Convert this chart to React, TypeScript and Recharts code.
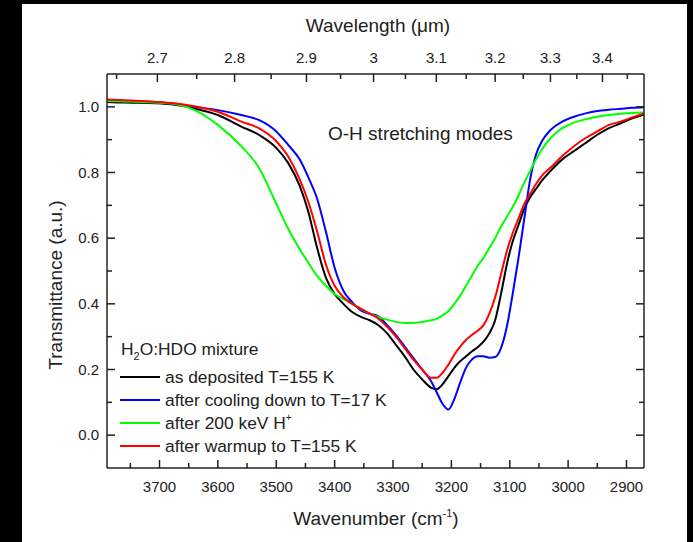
import { LineChart, Line, XAxis, YAxis } from "recharts";

// wavenumber grid (cm-1)
const wavenumbers = [
  3790, 3760, 3720, 3680, 3640, 3600, 3560, 3530, 3500, 3480, 3460, 3445, 3430, 3415, 3400, 3385, 3370, 3355,
  3340, 3325, 3310, 3295, 3280, 3265, 3250, 3235, 3225, 3215, 3205, 3195, 3185, 3175, 3165, 3155, 3145, 3135,
  3125, 3115, 3105, 3095, 3085, 3075, 3065, 3055, 3045, 3030, 3010, 2990, 2970, 2950, 2930, 2910, 2890, 2870,
];

const asDeposited = [
  1.015, 1.013, 1.012, 1.008, 0.995, 0.975, 0.94, 0.915, 0.875, 0.83, 0.76, 0.68, 0.57, 0.48, 0.43, 0.4, 0.375, 0.36,
  0.35, 0.335, 0.31, 0.275, 0.24, 0.2, 0.17, 0.145, 0.14, 0.155, 0.18, 0.205, 0.225, 0.24, 0.255, 0.268, 0.285, 0.31,
  0.35, 0.43, 0.52, 0.59, 0.64, 0.69, 0.725, 0.75, 0.775, 0.805, 0.84, 0.865, 0.89, 0.915, 0.935, 0.95, 0.965, 0.977,
];

const cooled17K = [
  1.02, 1.018, 1.015, 1.01, 1.0, 0.99, 0.975, 0.96, 0.925, 0.885, 0.84, 0.785, 0.72, 0.62, 0.51, 0.44, 0.405, 0.38,
  0.37, 0.362, 0.335, 0.305, 0.27, 0.235, 0.2, 0.165, 0.13, 0.095, 0.078, 0.11, 0.16, 0.205, 0.23, 0.24, 0.24, 0.236,
  0.238, 0.265, 0.33, 0.43, 0.54, 0.66, 0.78, 0.855, 0.895, 0.93, 0.955, 0.97, 0.98, 0.987, 0.991, 0.994, 0.997, 0.999,
];

const irradiated = [
  1.018, 1.016, 1.014, 1.01, 0.99, 0.945, 0.88, 0.815, 0.705, 0.63, 0.567, 0.525, 0.485, 0.455, 0.43, 0.415, 0.4, 0.385,
  0.37, 0.36, 0.352, 0.345, 0.342, 0.342, 0.345, 0.35, 0.355, 0.365, 0.378, 0.4, 0.425, 0.455, 0.485, 0.515, 0.54, 0.57,
  0.6, 0.635, 0.665, 0.695, 0.73, 0.77, 0.805, 0.84, 0.87, 0.905, 0.935, 0.952, 0.962, 0.97, 0.975, 0.979, 0.981, 0.983,
];

const warmed155K = [
  1.022, 1.02, 1.017, 1.012, 1.002, 0.985, 0.955, 0.935, 0.895, 0.85, 0.78, 0.71, 0.62, 0.52, 0.455, 0.42, 0.4, 0.385,
  0.37, 0.355, 0.33, 0.3, 0.265, 0.23, 0.2, 0.175, 0.175, 0.19, 0.215, 0.245, 0.27, 0.29, 0.305, 0.318, 0.335, 0.37,
  0.42, 0.49, 0.56, 0.615, 0.66, 0.705, 0.735, 0.765, 0.79, 0.815, 0.85, 0.88, 0.905, 0.925, 0.945, 0.955, 0.968, 0.979,
];

const wavenumberTicks = [3750, 3700, 3650, 3600, 3550, 3500, 3450, 3400, 3350, 3300, 3250, 3200, 3150, 3100, 3050, 3000, 2950, 2900];
const wavelengthTicks = [2.65, 2.7, 2.75, 2.8, 2.85, 2.9, 2.95, 3, 3.05, 3.1, 3.15, 3.2, 3.25, 3.3, 3.35, 3.4, 3.45];
const transmittanceTicks = [0, 0.1, 0.2, 0.3, 0.4, 0.5, 0.6, 0.7, 0.8, 0.9, 1.0];

const series = [
  { key: "asDeposited", name: "as deposited T=155 K", color: "#000000" },
  { key: "cooled17K", name: "after cooling down to T=17 K", color: "#0000ff" },
  { key: "irradiated", name: "after 200 keV H", color: "#00ff00" },
  { key: "warmed155K", name: "after warmup to T=155 K", color: "#ff0000" },
];

const rows = wavenumbers.map((w, i) => ({
  w,
  asDeposited: asDeposited[i],
  cooled17K: cooled17K[i],
  irradiated: irradiated[i],
  warmed155K: warmed155K[i],
}));

const FONT = '"Liberation Sans", Arial, sans-serif';
const INK = "#222";

function BottomTick(props: any) {
  const { x, y, payload } = props;
  const major = payload.value % 100 === 0;
  return (
    <g>
      <line x1={x} y1={y} x2={x} y2={y - (major ? 8 : 5)} stroke={INK} strokeWidth={1.5} />
      {major && (
        <text x={x} y={y + 24} textAnchor="middle" fontSize={15} fill={INK} fontFamily={FONT}>
          {payload.value}
        </text>
      )}
    </g>
  );
}

function TopTick(props: any) {
  const { x, y, payload } = props;
  const lambda = 10000 / payload.value;
  const major = Math.round(lambda * 100) % 10 === 0;
  return (
    <g>
      <line x1={x} y1={y} x2={x} y2={y + (major ? 8 : 5)} stroke={INK} strokeWidth={1.5} />
      {major && (
        <text x={x} y={y - 11} textAnchor="middle" fontSize={15} fill={INK} fontFamily={FONT}>
          {String(Number(lambda.toFixed(1)))}
        </text>
      )}
    </g>
  );
}

function LeftTick(props: any) {
  const { x, y, payload } = props;
  const major = Math.round(payload.value * 10) % 2 === 0;
  return (
    <g>
      <line x1={x} y1={y} x2={x + (major ? 8 : 5)} y2={y} stroke={INK} strokeWidth={1.5} />
      {major && (
        <text x={x - 8} y={y + 5} textAnchor="end" fontSize={15} fill={INK} fontFamily={FONT}>
          {payload.value.toFixed(1)}
        </text>
      )}
    </g>
  );
}

function RightTick(props: any) {
  const { x, y, payload } = props;
  const major = Math.round(payload.value * 10) % 2 === 0;
  return <line x1={x} y1={y} x2={x - (major ? 8 : 5)} y2={y} stroke={INK} strokeWidth={1.5} />;
}

export default function App() {
  const axisLine = { stroke: INK, strokeWidth: 1.5 };
  return (
    <div style={{ position: "absolute", left: 0, top: 0, width: 693, height: 542, background: "#000" }}>
      <div style={{ position: "absolute", left: 22, top: 4, width: 665, height: 538, background: "#fff" }} />
      <div style={{ position: "absolute", left: 0, top: 0 }}>
        <LineChart width={693} height={542} data={rows} margin={{ top: 34, right: 48, bottom: 34, left: 57 }}>
          <XAxis
            xAxisId="bottom"
            dataKey="w"
            type="number"
            domain={[2870, 3790]}
            reversed
            allowDataOverflow
            ticks={wavenumberTicks}
            interval={0}
            height={40}
            tickSize={0}
            tickMargin={0}
            tickLine={false}
            axisLine={axisLine}
            tick={BottomTick}
          />
          <XAxis
            xAxisId="top"
            orientation="top"
            dataKey="w"
            type="number"
            domain={[2870, 3790]}
            reversed
            allowDataOverflow
            ticks={wavelengthTicks.map((l) => 10000 / l)}
            interval={0}
            height={40}
            tickSize={0}
            tickMargin={0}
            tickLine={false}
            axisLine={axisLine}
            tick={TopTick}
          />
          <YAxis
            yAxisId="left"
            type="number"
            domain={[-0.1, 1.1]}
            allowDataOverflow
            ticks={transmittanceTicks}
            interval={0}
            width={50}
            tickSize={0}
            tickMargin={0}
            tickLine={false}
            axisLine={axisLine}
            tick={LeftTick}
          />
          <YAxis
            yAxisId="right"
            orientation="right"
            type="number"
            domain={[-0.1, 1.1]}
            allowDataOverflow
            ticks={transmittanceTicks}
            interval={0}
            width={1}
            tickSize={0}
            tickMargin={0}
            tickLine={false}
            axisLine={axisLine}
            tick={RightTick}
          />
          {series.map((s) => (
            <Line
              key={s.key}
              xAxisId="bottom"
              yAxisId="left"
              dataKey={s.key}
              type="monotone"
              stroke={s.color}
              strokeWidth={2}
              dot={false}
              isAnimationActive={false}
            />
          ))}
        </LineChart>
      </div>
      <svg
        width={693}
        height={542}
        style={{ position: "absolute", left: 0, top: 0, pointerEvents: "none" }}
        fontFamily={FONT}
        fill={INK}
      >
        <text x={378} y={32} textAnchor="middle" fontSize={19}>
          Wavelength (μm)
        </text>
        <text x={376} y={525} textAnchor="middle" fontSize={19}>
          Wavenumber (cm
          <tspan dy={-8} fontSize={11}>
            -1
          </tspan>
          <tspan dy={8}>)</tspan>
        </text>
        <text x={62} y={285} textAnchor="middle" fontSize={19} transform="rotate(-90, 62, 285)">
          Transmittance (a.u.)
        </text>
        <text x={328} y={140} fontSize={19}>
          O-H stretching modes
        </text>
        <text x={121} y={355} fontSize={17.4}>
          H
          <tspan dy={5} fontSize={11}>
            2
          </tspan>
          <tspan dy={-5}>O:HDO mixture</tspan>
        </text>
        {series.map((s, i) => {
          const ly = 377 + i * 23;
          return (
            <g key={s.key}>
              <line x1={120} y1={ly} x2={160} y2={ly} stroke={s.color} strokeWidth={2} />
              <text x={165} y={ly + 6} fontSize={17.4}>
                {s.name}
                {s.key === "irradiated" && (
                  <tspan dy={-8} fontSize={10}>
                    +
                  </tspan>
                )}
              </text>
            </g>
          );
        })}
      </svg>
    </div>
  );
}
